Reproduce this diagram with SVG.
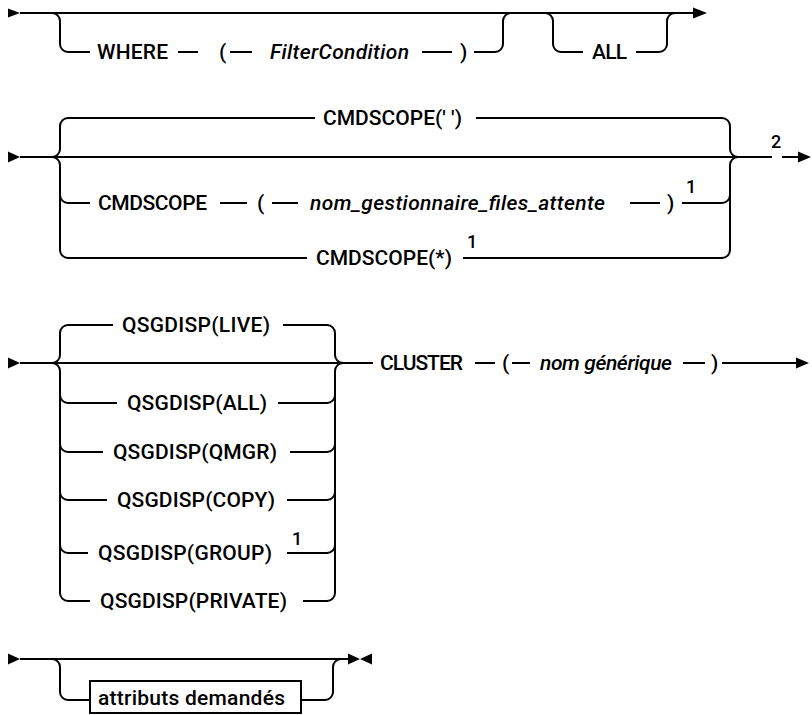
<svg xmlns="http://www.w3.org/2000/svg" width="812" height="715" viewBox="0 0 812 715">
<style>
  .ln{fill:none;stroke:#000;stroke-width:2}
  .ah{fill:#000;stroke:none}
  text{font-family:Roboto,"Liberation Sans",sans-serif;font-size:21px;font-weight:500;fill:#000}
  .it{font-style:italic}
  .sup{font-size:18px}
  .box{fill:#fff;stroke:#000;stroke-width:2}
</style>
<g id="connectors">
  <!-- row 1 -->
  <polygon class="ah" points="8,8.5 20,13 8,17.5"/>
  <path class="ln" d="M20,13 H694"/>
  <polygon class="ah" points="693,7.5 707,13 693,18.5"/>
  <path class="ln" d="M52,13 A8,8 0 0 1 60,21 V44 A8,8 0 0 0 68,52 H90"/>
  <path class="ln" d="M178,52 H198 M230,52 H252 M422,52 H452"/>
  <path class="ln" d="M474,52 H495 A8,8 0 0 0 503,44 V21 A8,8 0 0 1 511,13"/>
  <path class="ln" d="M545,13 A8,8 0 0 1 553,21 V44 A8,8 0 0 0 561,52 H583"/>
  <path class="ln" d="M636,52 H659 A8,8 0 0 0 667,44 V21 A8,8 0 0 1 675,13"/>
  <!-- row 2 -->
  <polygon class="ah" points="8,151.5 20,157 8,162.5"/>
  <path class="ln" d="M20,157 H772 M782,157 H799"/>
  <polygon class="ah" points="798,151.5 811,157 798,162.5"/>
  <path class="ln" d="M52,157 A8,8 0 0 0 60,149 V126 A8,8 0 0 1 68,118 H315"/>
  <path class="ln" d="M52,157 A8,8 0 0 1 60,165 V250 A8,8 0 0 0 68,258 H307"/>
  <path class="ln" d="M60,195 A8,8 0 0 0 68,203 H90"/>
  <path class="ln" d="M220,203 H247 M272,203 H298 M630,203 H660"/>
  <path class="ln" d="M476,118 H722 A8,8 0 0 1 730,126 V149 A8,8 0 0 0 738,157"/>
  <path class="ln" d="M738,157 A8,8 0 0 0 730,165 V250 A8,8 0 0 1 722,258 H463"/>
  <path class="ln" d="M682,203 H722 A8,8 0 0 0 730,195"/>
  <!-- row 3 -->
  <polygon class="ah" points="8,357.5 20,363 8,368.5"/>
  <path class="ln" d="M20,363 H373"/>
  <path class="ln" d="M52,363 A8,8 0 0 0 60,355 V333 A8,8 0 0 1 68,325 H113"/>
  <path class="ln" d="M52,363 A8,8 0 0 1 60,371 V593 A8,8 0 0 0 68,601 H90"/>
  <path class="ln" d="M60,395 A8,8 0 0 0 68,403 H117 M60,444 A8,8 0 0 0 68,452 H103 M60,492 A8,8 0 0 0 68,500 H107 M60,545 A8,8 0 0 0 68,553 H88"/>
  <path class="ln" d="M283,325 H327 A8,8 0 0 1 335,333 V355 A8,8 0 0 0 343,363"/>
  <path class="ln" d="M343,363 A8,8 0 0 0 335,371 V593 A8,8 0 0 1 327,601 H303"/>
  <path class="ln" d="M278,403 H327 A8,8 0 0 0 335,395 M290,452 H327 A8,8 0 0 0 335,444 M287,500 H327 A8,8 0 0 0 335,492 M287,553 H327 A8,8 0 0 0 335,545"/>
  <path class="ln" d="M475,363 H495 M512,363 H530 M683,363 H705 M722,363 H797"/>
  <polygon class="ah" points="796,357.5 809,363 796,368.5"/>
  <!-- row 4 -->
  <polygon class="ah" points="8,653.5 20,659 8,664.5"/>
  <path class="ln" d="M20,659 H349"/>
  <path class="ln" d="M52,659 A8,8 0 0 1 60,667 V692 A8,8 0 0 0 68,700 H90"/>
  <path class="ln" d="M301,700 H325 A8,8 0 0 0 333,692 V667 A8,8 0 0 1 341,659"/>
  <polygon class="ah" points="348,653.5 360,659 348,664.5"/>
  <polygon class="ah" points="372,653.5 360,659 372,664.5"/>
</g>
<g id="n-where"><text x="97" y="59" textLength="71">WHERE</text></g>
<g id="n-where-lp"><text x="219" y="59">(</text></g>
<g id="n-filter"><text class="it" x="270" y="59" textLength="139">FilterCondition</text></g>
<g id="n-where-rp"><text x="460" y="59">)</text></g>
<g id="n-all"><text x="592" y="59" textLength="35">ALL</text></g>

<g id="n-cmdscope-blank"><text x="323" y="125" textLength="139">CMDSCOPE(' ')</text></g>
<g id="n-cmdscope"><text x="98" y="210" textLength="109">CMDSCOPE</text></g>
<g id="n-cmdscope-lp"><text x="257" y="210">(</text></g>
<g id="n-qmgr-name"><text class="it" x="310" y="210" textLength="295">nom_gestionnaire_files_attente</text></g>
<g id="n-cmdscope-rp"><text x="667" y="210">)</text></g>
<g id="n-note1a"><text class="sup" x="686" y="193">1</text></g>
<g id="n-cmdscope-star"><text x="316" y="265" textLength="136">CMDSCOPE(*)</text></g>
<g id="n-note1b"><text class="sup" x="467" y="248">1</text></g>
<g id="n-note2"><text class="sup" x="771" y="148">2</text></g>

<g id="n-live"><text x="122" y="332" textLength="148">QSGDISP(LIVE)</text></g>
<g id="n-qall"><text x="127" y="410" textLength="140">QSGDISP(ALL)</text></g>
<g id="n-qmgr"><text x="113" y="459" textLength="164">QSGDISP(QMGR)</text></g>
<g id="n-copy"><text x="117" y="507" textLength="158">QSGDISP(COPY)</text></g>
<g id="n-group"><text x="98" y="560" textLength="174">QSGDISP(GROUP)</text></g>
<g id="n-note1c"><text class="sup" x="292" y="545">1</text></g>
<g id="n-private"><text x="100" y="608" textLength="187">QSGDISP(PRIVATE)</text></g>
<g id="n-cluster"><text x="380" y="370" textLength="83">CLUSTER</text></g>
<g id="n-cluster-lp"><text x="502" y="370">(</text></g>
<g id="n-generic"><text class="it" x="540" y="370" textLength="132">nom générique</text></g>
<g id="n-cluster-rp"><text x="711" y="370">)</text></g>

<g id="n-attrs"><rect class="box" x="90" y="681" width="211" height="32"/><text x="98" y="705" textLength="187">attributs demandés</text></g>
</svg>
